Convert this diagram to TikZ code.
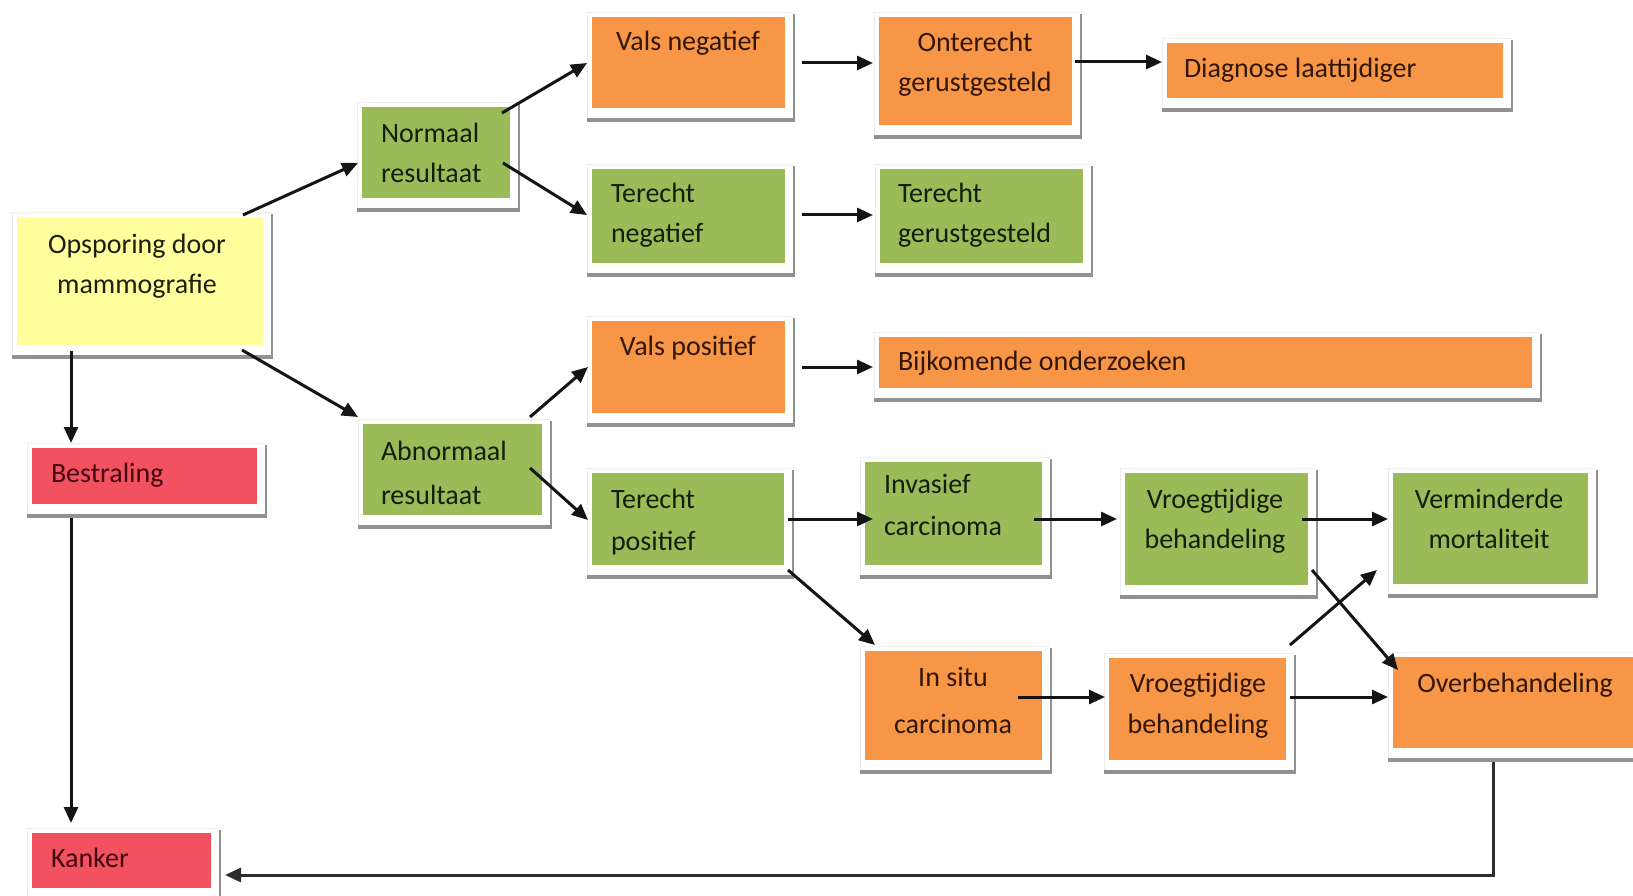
\documentclass[tikz,border=0pt]{standalone}
\usepackage{fontspec}
\setmainfont{Carlito}
\usetikzlibrary{arrows.meta}

\definecolor{boxorange}{RGB}{247,150,70}
\definecolor{boxgreen}{RGB}{155,187,89}
\definecolor{boxyellow}{RGB}{255,255,158}
\definecolor{boxred}{RGB}{242,82,96}
\definecolor{txtorange}{RGB}{50,22,8}
\definecolor{txtgreen}{RGB}{20,30,10}
\definecolor{txtred}{RGB}{66,6,16}
\definecolor{txtyellow}{RGB}{30,30,12}
\definecolor{shadowgrey}{RGB}{145,145,145}
\definecolor{linegrey}{RGB}{45,45,45}

\tikzset{
  arr/.style={line width=3pt, draw=black!92, -{Triangle[length=16pt,width=14pt]}},
  lbl/.style={inner sep=0pt, outer sep=0pt, font=\fontsize{28}{34}\selectfont},
}

% #1 name, #2 left, #3 top, #4 right, #5 bottom, #6 fill colour
\newcommand\flowbox[6]{%
  \fill[shadowgrey] (#2-5,#3-3) rectangle (#4+10,#5+14);
  \fill[white] (#2-5,#3-5) rectangle (#4+8,#5+10);
  \draw[black!7, line width=0.8pt] (#2-5,#5+10) -- (#2-5,#3-5) -- (#4+8,#3-5);
  \node[fill=#6, inner sep=0pt, outer sep=0pt, anchor=north west,
        minimum width={#4-#2}, minimum height={#5-#3}] (#1) at (#2,#3) {};
}

\begin{document}
\begin{tikzpicture}[x=1pt, y=-1pt]
\useasboundingbox (0,0) rectangle (1633,896);
\clip (0,0) rectangle (1633,896);
\fill[white] (0,0) rectangle (1633,896);

% boxes
\flowbox{ops}{17}{217}{263}{345}{boxyellow}
\flowbox{nor}{362}{107}{510}{198}{boxgreen}
\flowbox{abn}{363}{424}{542}{515}{boxgreen}
\flowbox{bes}{32}{448}{257}{504}{boxred}
\flowbox{kan}{32}{833}{211}{888}{boxred}
\flowbox{vneg}{592}{17}{785}{108}{boxorange}
\flowbox{tneg}{592}{169}{785}{263}{boxgreen}
\flowbox{ong}{879}{17}{1072}{125}{boxorange}
\flowbox{tger}{880}{169}{1083}{263}{boxgreen}
\flowbox{diag}{1167}{43}{1503}{98}{boxorange}
\flowbox{vpos}{592}{321}{785}{413}{boxorange}
\flowbox{tpos}{592}{473}{784}{565}{boxgreen}
\flowbox{bijk}{879}{337}{1532}{388}{boxorange}
\flowbox{inv}{865}{462}{1042}{565}{boxgreen}
\flowbox{insitu}{865}{651}{1042}{760}{boxorange}
\flowbox{vbg}{1125}{473}{1308}{585}{boxgreen}
\flowbox{vbo}{1109}{658}{1286}{760}{boxorange}
\flowbox{verm}{1393}{473}{1588}{584}{boxgreen}
\flowbox{over}{1393}{657}{1650}{748}{boxorange}

% labels
\node[lbl, anchor=base, text=txtyellow] (opsA) at (137,253) {Opsporing door};
\node[lbl, anchor=base, text=txtyellow] (opsB) at (137,293) {mammografie};
\node[lbl, anchor=base west, text=txtgreen] (norA) at (381,143) {Normaal};
\node[lbl, anchor=base west, text=txtgreen] (norB) at (381,183) {resultaat};
\node[lbl, anchor=base west, text=txtgreen] (abnA) at (381,460) {Abnormaal};
\node[lbl, anchor=base west, text=txtgreen] (abnB) at (381,504) {resultaat};
\node[lbl, anchor=base west, text=txtred] (besA) at (51,482) {Bestraling};
\node[lbl, anchor=base west, text=txtred] (kanA) at (51,867) {Kanker};
\node[lbl, anchor=base, text=txtorange] (vnegA) at (688,51) {Vals negatief};
\node[lbl, anchor=base, text=txtorange] (ongA) at (975,52) {Onterecht};
\node[lbl, anchor=base, text=txtorange] (ongB) at (975,92) {gerustgesteld};
\node[lbl, anchor=base west, text=txtgreen] (tnegA) at (611,203) {Terecht};
\node[lbl, anchor=base west, text=txtgreen] (tnegB) at (611,243) {negatief};
\node[lbl, anchor=base west, text=txtgreen] (tgerA) at (898,203) {Terecht};
\node[lbl, anchor=base west, text=txtgreen] (tgerB) at (898,243) {gerustgesteld};
\node[lbl, anchor=base west, text=txtorange] (diagA) at (1184,78) {Diagnose laattijdiger};
\node[lbl, anchor=base, text=txtorange] (vposA) at (688,355) {Vals positief};
\node[lbl, anchor=base west, text=txtorange] (bijkA) at (898,370) {Bijkomende onderzoeken};
\node[lbl, anchor=base west, text=txtgreen] (tposA) at (611,508) {Terecht};
\node[lbl, anchor=base west, text=txtgreen] (tposB) at (611,550) {positief};
\node[lbl, anchor=base west, text=txtgreen] (invA) at (884,493) {Invasief};
\node[lbl, anchor=base west, text=txtgreen] (invB) at (884,535) {carcinoma};
\node[lbl, anchor=base, text=txtorange] (insituA) at (953,686) {In situ};
\node[lbl, anchor=base, text=txtorange] (insituB) at (953,733) {carcinoma};
\node[lbl, anchor=base, text=txtgreen] (vbgA) at (1215,508) {Vroegtijdige};
\node[lbl, anchor=base, text=txtgreen] (vbgB) at (1215,548) {behandeling};
\node[lbl, anchor=base, text=txtgreen] (vermA) at (1489,508) {Verminderde};
\node[lbl, anchor=base, text=txtgreen] (vermB) at (1489,548) {mortaliteit};
\node[lbl, anchor=base, text=txtorange] (vboA) at (1198,692) {Vroegtijdige};
\node[lbl, anchor=base, text=txtorange] (vboB) at (1198,733) {behandeling};
\node[lbl, anchor=base, text=txtorange] (overA) at (1515,692) {Overbehandeling};

% connectors
\draw[arr] ([shift={(-20,-2)}]ops.north east) -- ([shift={(-4,56)}]nor.north west);
\draw[arr] ([shift={(-21,5)}]ops.south east) -- ([shift={(-5,-7)}]abn.north west);
\draw[arr] ([shift={(54,6)}]ops.south west) -- ([shift={(39,-5)}]bes.north west);
\draw[arr] ([shift={(39,14)}]bes.south west) -- ([shift={(39,-10)}]kan.north west);
\draw[arr] ([shift={(-8,6)}]nor.north east) -- ([shift={(-5,46)}]vneg.north west);
\draw[arr] ([shift={(-7,56)}]nor.north east) -- ([shift={(-5,46)}]tneg.north west);
\draw[arr] ([shift={(17,46)}]vneg.north east) -- ([shift={(-6,46)}]ong.north west);
\draw[arr] ([shift={(17,46)}]tneg.north east) -- ([shift={(-7,46)}]tger.north west);
\draw[arr] ([shift={(3,45)}]ong.north east) -- ([shift={(-5,19)}]diag.north west);
\draw[arr] ([shift={(-12,-7)}]abn.north east) -- ([shift={(-4,46)}]vpos.north west);
\draw[arr] ([shift={(-12,44)}]abn.north east) -- ([shift={(-4,47)}]tpos.north west);
\draw[arr] ([shift={(17,46)}]vpos.north east) -- ([shift={(-6,30)}]bijk.north west);
\draw[arr] ([shift={(4,46)}]tpos.north east) -- ([shift={(8,57)}]inv.north west);
\draw[arr] ([shift={(4,5)}]tpos.south east) -- ([shift={(10,-6)}]insitu.north west);
\draw[arr] ([shift={(-8,57)}]inv.north east) -- ([shift={(-8,46)}]vbg.north west);
\draw[arr] ([shift={(-24,46)}]insitu.north east) -- ([shift={(-4,39)}]vbo.north west);
\draw[arr] ([shift={(-6,46)}]vbg.north east) -- ([shift={(-5,46)}]verm.north west);
\draw[arr] ([shift={(4,-15)}]vbg.south east) -- ([shift={(5,13)}]over.north west);
\draw[arr] ([shift={(4,-13)}]vbo.north east) -- ([shift={(-16,-14)}]verm.south west);
\draw[arr] ([shift={(4,39)}]vbo.north east) -- ([shift={(-5,40)}]over.north west);
\draw[arr, draw=linegrey] ([shift={(100,14)}]over.south west) |- ([shift={(14,42)}]kan.north east);
\end{tikzpicture}
\end{document}
